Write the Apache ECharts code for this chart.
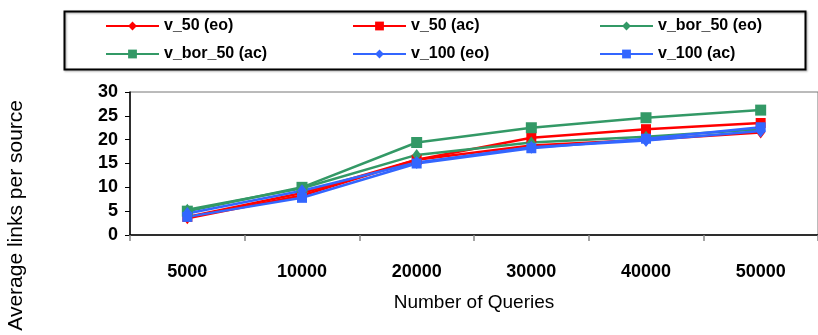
<!DOCTYPE html>
<html>
<head>
<meta charset="utf-8">
<script src="https://cdn.jsdelivr.net/npm/echarts@6/dist/echarts.min.js"></script>
<style>
  html, body { margin: 0; padding: 0; background: #fff; }
  #main { width: 818px; height: 335px; }
</style>
</head>
<body>
<div id="main"></div>
<script>
var dom = document.getElementById('main');
var myChart = echarts.init(dom, null, { renderer: 'canvas' });

// categories / data
var queries = ['5000', '10000', '20000', '30000', '40000', '50000'];
var v50eo    = [3.5, 8.3, 15.8, 18.8, 20.0, 21.5];
var v50ac    = [3.8, 8.8, 15.8, 20.4, 22.2, 23.5];
var vbor50eo = [5.3, 9.8, 16.8, 19.4, 20.6, 22.2];
var vbor50ac = [5.0, 10.0, 19.4, 22.5, 24.6, 26.2];
var v100eo   = [4.5, 9.3, 15.2, 18.4, 19.8, 21.8];
var v100ac   = [3.8, 7.8, 15.0, 18.2, 20.2, 22.6];
var yTicks = [0, 5, 10, 15, 20, 25, 30];

var RED = '#ff0000', GREEN = '#339966', BLUE = '#3366ff';

function mk(name, data, color, symbol, size) {
    return {
        name: name,
        type: 'line',
        data: data,
        symbol: symbol,
        symbolSize: size,
        color: color,
        lineStyle: { color: color, width: 2.5 },
        itemStyle: { color: color },
        animation: false
    };
}

var legendText = { fontFamily: 'Liberation Sans, Arial', fontWeight: 'bold', fontSize: 16, color: '#000' };
function col(x, names) {
    return {
        orient: 'vertical',
        left: x, top: 13,
        itemWidth: 53, itemHeight: 11,
        itemGap: 12,
        data: names,
        textStyle: legendText,
        selectedMode: false
    };
}

var option = {
    backgroundColor: '#fff',
    animation: false,
    grid: {
        left: 130, top: 92, right: -11, height: 143,
        show: true, borderColor: '#777', borderWidth: 1
    },
    legend: [
        col(100, ['v_50 (eo)', 'v_bor_50 (ac)']),
        col(347, ['v_50 (ac)', 'v_100 (eo)']),
        col(594, ['v_bor_50 (eo)', 'v_100 (ac)'])
    ],
    graphic: [
        {
            type: 'rect',
            left: 62, top: 9,
            shape: { width: 741, height: 58 },
            style: { fill: 'none', stroke: '#000', lineWidth: 2, shadowBlur: 2, shadowOffsetX: 1, shadowOffsetY: 1, shadowColor: 'rgba(0,0,0,0.35)' },
            z: -1
        },
        {
            type: 'text',
            left: 6, top: 100,
            rotation: Math.PI / 2,
            style: {
                text: 'Average links per source',
                font: '21px "Liberation Sans", Arial',
                fill: '#000'
            }
        }
    ],
    xAxis: {
        type: 'category',
        data: queries,
        boundaryGap: true,
        name: 'Number of Queries',
        nameLocation: 'middle',
        nameGap: 58,
        nameTextStyle: { fontFamily: 'Liberation Sans, Arial', fontSize: 19, color: '#000' },
        axisLine: { lineStyle: { color: '#000', width: 1.5 } },
        axisTick: { show: true, alignWithLabel: false, length: 6, lineStyle: { color: '#888', width: 1.5 } },
        axisLabel: { margin: 28, fontFamily: 'Liberation Sans, Arial', fontWeight: 'bold', fontSize: 18, color: '#000' },
        splitLine: { show: false }
    },
    yAxis: {
        type: 'value',
        min: yTicks[0], max: yTicks[yTicks.length - 1], interval: 5,
        axisLine: { show: true, lineStyle: { color: '#000', width: 1.5 } },
        axisTick: { show: true, length: 5, lineStyle: { color: '#000' } },
        axisLabel: { margin: 12, fontFamily: 'Liberation Sans, Arial', fontWeight: 'bold', fontSize: 18, color: '#000' },
        splitLine: { show: false }
    },
    series: [
        mk('v_50 (eo)', v50eo, RED, 'diamond', [9, 12]),
        mk('v_50 (ac)', v50ac, RED, 'rect', 10),
        mk('v_bor_50 (eo)', vbor50eo, GREEN, 'diamond', [9, 12]),
        mk('v_bor_50 (ac)', vbor50ac, GREEN, 'rect', 11),
        mk('v_100 (eo)', v100eo, BLUE, 'diamond', [10, 13]),
        mk('v_100 (ac)', v100ac, BLUE, 'rect', 10)
    ]
};

myChart.setOption(option);
</script>
</body>
</html>
